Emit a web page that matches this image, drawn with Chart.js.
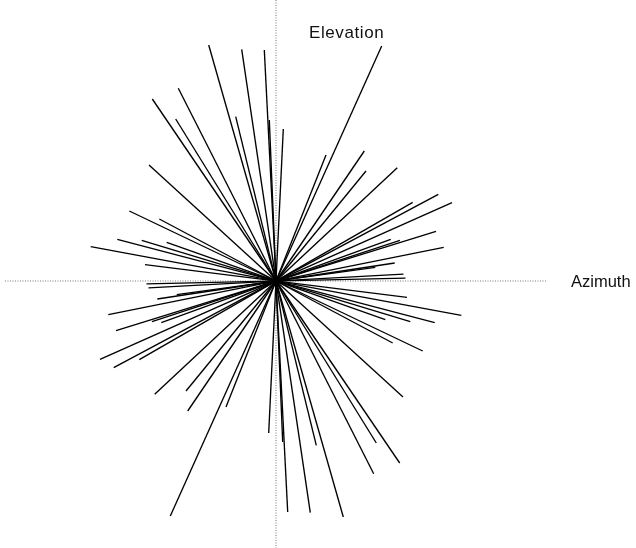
<!DOCTYPE html>
<html>
<head>
<meta charset="utf-8">
<style>
  html, body { margin: 0; padding: 0; background: #fff; }
  #wrap { width: 636px; height: 548px; position: relative; }
</style>
<script src="https://cdn.jsdelivr.net/npm/chart.js@4/dist/chart.umd.min.js"></script>
</head>
<body>
<div id="wrap"><canvas id="c" width="636" height="548"></canvas></div>
<script>
// Direction vectors: one end of each segment (azimuth, elevation); every segment
// runs symmetrically through the origin from -v to +v.
const azimuth = [
  -67.3, -34.3, -11.7, -97.7, -123.7, -100.3, -40.3, -6.7, 7.3,
  -127, -146.7, -116.7, -158.7, -134.3, -109.3, -185.3, -131,
  105.7, 50, 88.3, 90, 121.3, 136.7, 162.3, 176, 160, 114.7, 124,
  167.7, 118.7, 99.3, 127.5, 129.5
];
const elevation = [
  236, 231.7, 231, 192.7, 182, 162, 164.3, 161, 152,
  116, 70, 62, 41.7, 40.7, 38.7, 34.3, 16.3,
  235, 126, 130, 110, 113.3, 78.7, 86.7, 78.3, 49.7, 41.7, 40.7,
  33.7, 18, 13.7, 6.8, 2.8
];
const axisLabels = ['Azimuth', 'Elevation'];

const datasets = azimuth.map((ax, i) => ({
  data: [{ x: -ax, y: -elevation[i] }, { x: ax, y: elevation[i] }],
  showLine: true,
  borderColor: '#000',
  borderWidth: 1.35,
  pointRadius: 0,
  pointHoverRadius: 0,
  order: 1
}));

// Dotted reference axes through the origin
datasets.push({
  data: [{ x: -271, y: 0 }, { x: 270, y: 0 }],
  showLine: true, borderColor: '#777', borderWidth: 1, borderDash: [1, 1.5],
  pointRadius: 0, order: 2
});
datasets.push({
  data: [{ x: 0, y: 281 }, { x: 0, y: -267 }],
  showLine: true, borderColor: '#777', borderWidth: 1, borderDash: [1, 1.5],
  pointRadius: 0, order: 2
});

const axisTitles = {
  id: 'axisTitles',
  afterDraw(chart) {
    const { ctx, scales: { x, y } } = chart;
    ctx.save();
    ctx.fillStyle = '#111';
    ctx.textBaseline = 'alphabetic';
    ctx.textAlign = 'left';
    ctx.font = '16.5px "Liberation Sans", Arial, sans-serif';
    ctx.fillText(axisLabels[0], x.getPixelForValue(295), y.getPixelForValue(-6));
    ctx.font = '17px "Liberation Sans", Arial, sans-serif';
    if ('letterSpacing' in ctx) ctx.letterSpacing = '0.6px';
    ctx.fillText(axisLabels[1], x.getPixelForValue(33), y.getPixelForValue(243.5));
    ctx.restore();
  }
};

new Chart(document.getElementById('c'), {
  type: 'scatter',
  data: { datasets },
  options: {
    responsive: false,
    animation: false,
    layout: { padding: 0 },
    plugins: { legend: { display: false }, tooltip: { enabled: false } },
    scales: {
      x: { type: 'linear', min: -276, max: 360, display: false },
      y: { type: 'linear', min: -267, max: 281, display: false }
    }
  },
  plugins: [axisTitles]
});
</script>
</body>
</html>
